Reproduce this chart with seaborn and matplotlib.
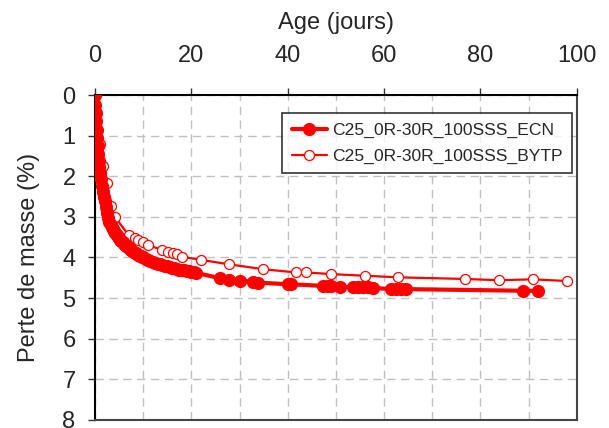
import numpy as np
import pandas as pd
import matplotlib
matplotlib.use("Agg")
import matplotlib.pyplot as plt
from matplotlib.ticker import MultipleLocator
import seaborn as sns

# Mass loss (%) versus age (days)
ecn_age = [0, 0.1, 0.2, 0.3, 0.4, 0.5, 0.6, 0.7, 0.8, 0.9, 1.0, 1.2, 1.4, 1.6,
           1.8, 2.0, 2.25, 2.5, 2.75, 3.0, 3.25, 3.5, 3.75, 4.0, 4.25, 4.5,
           4.75, 5.0, 5.25, 5.5, 5.75, 6.0, 6.25, 6.5, 6.75, 7.0, 7.25, 7.5,
           7.75, 8.0, 8.25, 8.5, 8.75, 9.0, 9.25, 9.5, 9.75, 10, 10.5, 11,
           11.5, 12, 12.5, 13, 13.5, 14, 14.5, 15, 15.5, 16, 16.5, 17, 17.5,
           18, 18.5, 19, 19.5, 20, 20.5, 21,
           25.9, 27.9, 30.0, 32.7, 33.8, 40.0, 40.7, 47.3, 48.3, 49.0, 50.8,
           53.5, 54.6, 55.6, 56.6, 57.7, 61.5, 62.5, 63.6, 64.6, 88.8, 91.9]
ecn_loss = [0, 0.25, 0.45, 0.65, 0.85, 1.05, 1.25, 1.45, 1.62, 1.78, 1.92, 2.08,
            2.25, 2.38, 2.5, 2.62, 2.77, 2.91, 3.02, 3.12, 3.19, 3.25, 3.31,
            3.36, 3.41, 3.45, 3.49, 3.53, 3.57, 3.60, 3.63, 3.66, 3.69, 3.72,
            3.75, 3.77, 3.80, 3.82, 3.84, 3.86, 3.88, 3.90, 3.92, 3.94, 3.96,
            3.97, 3.99, 4.00, 4.03, 4.06, 4.09, 4.11, 4.13, 4.15, 4.17, 4.19,
            4.21, 4.22, 4.24, 4.25, 4.27, 4.28, 4.30, 4.31, 4.32, 4.33, 4.34,
            4.35, 4.37, 4.38,
            4.51, 4.56, 4.57, 4.60, 4.62, 4.66, 4.66, 4.70, 4.70, 4.71, 4.72,
            4.74, 4.74, 4.74, 4.74, 4.75, 4.78, 4.78, 4.78, 4.78, 4.82, 4.82]

bytp_age = [0, 1.0, 1.7, 2.5, 3.3, 4.1, 7.0, 8.2, 9.0, 9.9, 10.9, 14.0, 15.1,
            16.1, 17.0, 18.0, 22.0, 27.9, 34.9, 41.8, 43.9, 49.0, 56.0, 63.0,
            76.8, 83.8, 90.9, 97.9]
bytp_loss = [0, 1.2, 1.75, 2.17, 2.73, 3.0, 3.45, 3.53, 3.57, 3.63, 3.69, 3.82,
             3.86, 3.9, 3.92, 3.98, 4.06, 4.17, 4.29, 4.37, 4.37, 4.41, 4.45,
             4.49, 4.53, 4.56, 4.54, 4.58]

ecn_name = "C25_0R-30R_100SSS_ECN"
bytp_name = "C25_0R-30R_100SSS_BYTP"

sns.set_style("white")
plt.rcParams["font.family"] = ["Liberation Sans", "DejaVu Sans"]

fig = plt.figure(figsize=(6.09, 4.28), dpi=100)
ax = fig.add_axes([0.156, 0.019, 0.791, 0.759])

ecn_df = pd.DataFrame({"age": ecn_age, "loss": ecn_loss})
bytp_df = pd.DataFrame({"age": bytp_age, "loss": bytp_loss})

sns.lineplot(data=bytp_df, x="age", y="loss", ax=ax, sort=False, estimator=None,
             color="#ff0000", linewidth=1.6, marker="o", markersize=7.2,
             markeredgecolor="#ff0000", markerfacecolor="white",
             markeredgewidth=0.9, label=bytp_name, zorder=3)
sns.lineplot(data=ecn_df, x="age", y="loss", ax=ax, sort=False, estimator=None,
             color="#ff0000", linewidth=3.0, marker="o", markersize=8.5,
             markeredgecolor="#ff0000", markerfacecolor="#ff0000",
             markeredgewidth=1, label=ecn_name, zorder=4)

ax.set_xlim(0, 100)
ax.set_ylim(8, 0)
ax.xaxis.set_major_locator(MultipleLocator(20))
ax.xaxis.set_minor_locator(MultipleLocator(10))
ax.yaxis.set_major_locator(MultipleLocator(1))
ax.xaxis.tick_top()
ax.xaxis.set_label_position("top")
ax.set_xlabel("Age (jours)", fontsize=17, labelpad=12)
ax.set_ylabel("Perte de masse (%)", fontsize=17, labelpad=16)
ax.tick_params(axis="x", which="major", direction="out", length=5, width=1,
               labelsize=17, pad=15, top=True, bottom=False, color="#333333")
ax.tick_params(axis="x", which="minor", length=0, top=False, bottom=False)
ax.tick_params(axis="y", which="major", direction="out", length=5, width=1,
               labelsize=17, pad=9, left=True, color="#333333")

grid_style = dict(color="#c0c0c0", linestyle=(0, (6, 4)), linewidth=1)
ax.grid(True, which="minor", axis="x", **grid_style)
ax.grid(True, which="major", axis="x", **grid_style)
ax.grid(True, which="major", axis="y", **grid_style)
ax.set_axisbelow(True)

for side in ["left", "top"]:
    ax.spines[side].set_color("black")
    ax.spines[side].set_linewidth(1.5)
for side in ["right", "bottom"]:
    ax.spines[side].set_color("#444444")
    ax.spines[side].set_linewidth(1.5)

handles, labels = ax.get_legend_handles_labels()
order = [labels.index(ecn_name), labels.index(bytp_name)]
leg = ax.legend([handles[i] for i in order], [labels[i] for i in order],
                loc="upper right", bbox_to_anchor=(0.99, 0.945), fontsize=12.6,
                frameon=True, fancybox=False, edgecolor="black",
                handlelength=2.0, handletextpad=0.3, borderpad=0.55,
                labelspacing=0.6, borderaxespad=0)
leg.get_frame().set_linewidth(1.2)

fig.savefig("out.png", dpi=100)
